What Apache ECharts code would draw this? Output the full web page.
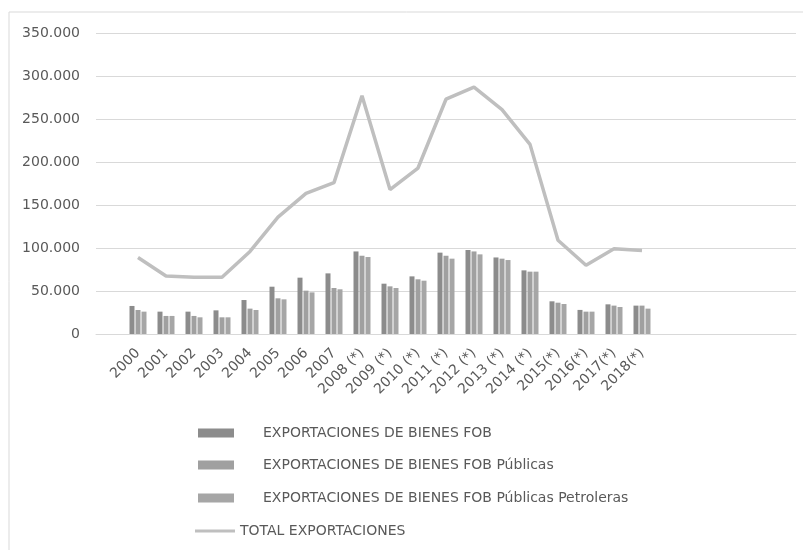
<!DOCTYPE html>
<html>
<head>
<meta charset="utf-8">
<script src="https://cdn.jsdelivr.net/npm/echarts@6/dist/echarts.min.js"></script>
<style>
  html, body { margin: 0; padding: 0; background: #fff; }
  #chart { width: 803px; height: 550px; }
</style>
</head>
<body>
<div id="chart"></div>
<script>
const years = [
  "", "2000", "2001", "2002", "2003", "2004", "2005", "2006", "2007",
  "2008 (*)", "2009 (*)", "2010 (*)", "2011 (*)", "2012 (*)", "2013 (*)", "2014 (*)",
  "2015(*)", "2016(*)", "2017(*)", "2018(*)", "", "", "", "", ""
];
const fob = [null, 32600, 26000, 26000, 27500, 39500, 55000, 65500, 70500, 96000, 58500,
  67000, 94600, 97700, 89000, 74000, 38000, 28000, 34500, 33000];
const fobPublicas = [null, 27900, 21000, 21000, 19400, 29500, 41500, 50400, 53500, 91000, 55400,
  63600, 91000, 96000, 87600, 72500, 36400, 26000, 33000, 33000];
const fobPetroleras = [null, 26000, 21000, 19400, 19400, 27900, 40300, 48400, 52000, 89500, 53500,
  62000, 87600, 92600, 86000, 72500, 34900, 26000, 31400, 29500];
const totalExport = [null, 89000, 67500, 66000, 66000, 96000, 136000, 163500, 176000, 277000, 168000,
  193000, 273000, 287000, 261000, 220500, 109000, 80000, 99000, 97000];

const names = [
  "EXPORTACIONES DE BIENES FOB",
  "EXPORTACIONES DE BIENES FOB Públicas",
  "EXPORTACIONES DE BIENES FOB Públicas Petroleras",
  "TOTAL EXPORTACIONES"
];

const chart = echarts.init(document.getElementById("chart"));
const font = "DejaVu Sans";
const textColor = "#595959";

const barLegend = (name, top) => ({
  data: [name],
  left: 193,
  top: top,
  icon: "rect",
  itemWidth: 36,
  itemHeight: 9,
  selectedMode: false,
  textStyle: { fontFamily: font, fontSize: 14, color: textColor, padding: [0, 0, 0, 24] }
});

const option = {
  animation: false,
  backgroundColor: "#fff",
  textStyle: { fontFamily: font },
  graphic: [{
    type: "rect",
    shape: { x: 9, y: 12, width: 820, height: 560 },
    style: { fill: "none", stroke: "#d9d9d9", lineWidth: 1 },
    silent: true
  }],
  grid: { left: 96, right: 7, top: 33, bottom: 216 },
  legend: [
    barLegend(names[0], 421),
    barLegend(names[1], 453),
    barLegend(names[2], 486),
    {
      data: [names[3]],
      left: 190,
      top: 519,
      icon: "rect",
      itemWidth: 40,
      itemHeight: 3,
      selectedMode: false,
      textStyle: { fontFamily: font, fontSize: 14, color: textColor }
    }
  ],
  xAxis: {
    type: "category",
    data: years,
    axisLine: { lineStyle: { color: "#d9d9d9" } },
    axisTick: { length: 5, lineStyle: { color: "#d9d9d9" } },
    axisLabel: {
      rotate: 45,
      interval: 0,
      margin: 17,
      fontFamily: font,
      fontSize: 14,
      color: textColor
    }
  },
  yAxis: {
    type: "value",
    min: 0,
    max: 350000,
    interval: 50000,
    axisLine: { show: false },
    axisTick: { show: false },
    splitLine: { lineStyle: { color: "#d9d9d9" } },
    axisLabel: {
      margin: 16,
      fontFamily: font,
      fontSize: 14,
      color: textColor,
      formatter: (v) => v === 0 ? "0" : String(v).replace(/\B(?=(\d{3})+(?!\d))/g, ".")
    }
  },
  series: [
    {
      name: names[0],
      type: "bar",
      data: fob,
      barWidth: 5,
      barGap: "20%",
      itemStyle: { color: "#8c8c8c" }
    },
    {
      name: names[1],
      type: "bar",
      data: fobPublicas,
      barWidth: 5,
      barGap: "20%",
      itemStyle: { color: "#a0a0a0" }
    },
    {
      name: names[2],
      type: "bar",
      data: fobPetroleras,
      barWidth: 5,
      barGap: "20%",
      itemStyle: { color: "#a6a6a6" }
    },
    {
      name: names[3],
      type: "line",
      data: totalExport,
      showSymbol: false,
      symbol: "none",
      lineStyle: { color: "#bfbfbf", width: 3.5 },
      itemStyle: { color: "#bfbfbf" },
      z: 3
    }
  ]
};

chart.setOption(option);
</script>
</body>
</html>
